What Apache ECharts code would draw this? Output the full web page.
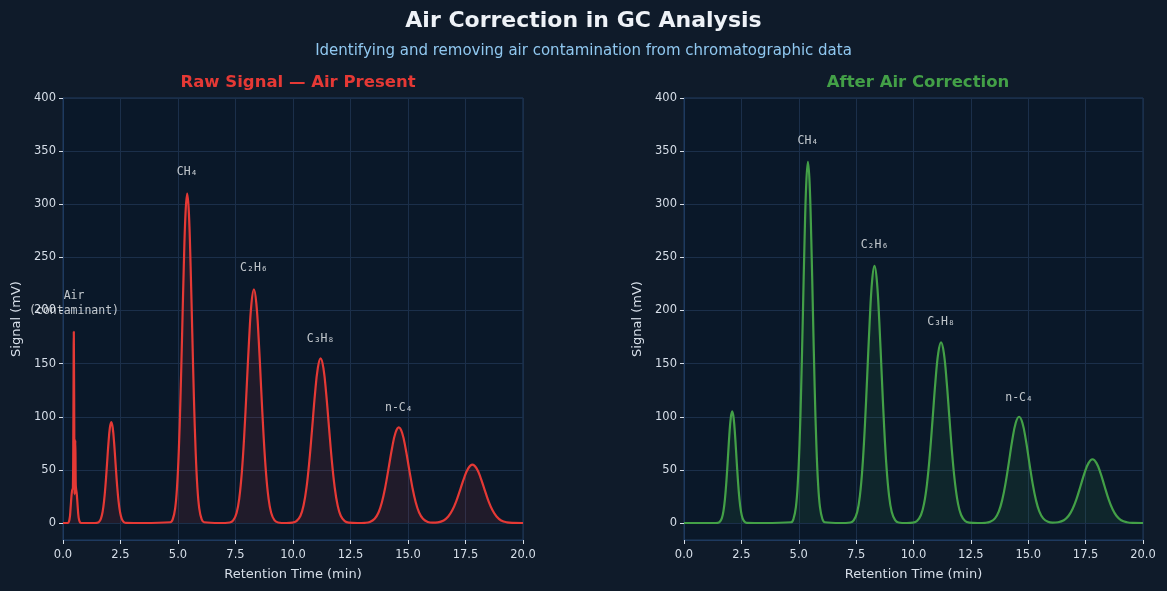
<!DOCTYPE html>
<html>
<head>
<meta charset="utf-8">
<script src="https://cdn.jsdelivr.net/npm/echarts@6/dist/echarts.min.js"></script>
<style>
  html, body { margin: 0; padding: 0; background: #0f1b2a; }
  #chart { width: 1167px; height: 591px; }
</style>
</head>
<body>
<div id="chart"></div>
<script>
// retention time (min) and detector signal (mV)
const rawTime = [
  0, 0.2, 0.28, 0.33, 0.37, 0.40, 0.43, 0.45, 0.47, 0.49, 0.50, 0.515, 0.535, 0.555, 0.57, 0.6, 0.64, 0.68, 0.73, 0.8, 1.3,
  1.47, 1.56, 1.65, 1.722, 1.785, 1.848, 1.911, 1.974, 2.037, 2.1, 2.163, 2.226, 2.289, 2.352, 2.415, 2.478, 2.55, 2.64, 2.73, 3.5,
  4.665, 4.77, 4.875, 4.959, 5.033, 5.106, 5.18, 5.253, 5.327, 5.4, 5.474, 5.547, 5.621, 5.694, 5.768, 5.841, 5.925, 6.03, 6.135, 6.8,
  7.25, 7.4, 7.55, 7.67, 7.775, 7.88, 7.985, 8.09, 8.195, 8.3, 8.405, 8.51, 8.615, 8.72, 8.825, 8.93, 9.05, 9.2, 9.35, 9.7,
  9.975, 10.15, 10.325, 10.465, 10.588, 10.71, 10.833, 10.955, 11.078, 11.2, 11.323, 11.445, 11.568, 11.69, 11.813, 11.935, 12.075, 12.25, 12.425, 12.8,
  13.13, 13.34, 13.55, 13.718, 13.865, 14.012, 14.159, 14.306, 14.453, 14.6, 14.747, 14.894, 15.041, 15.188, 15.335, 15.482, 15.65, 15.86, 16.06,
  16.3, 16.55, 16.75, 16.925, 17.1, 17.275, 17.45, 17.625, 17.8, 17.975, 18.15, 18.325, 18.5, 18.675, 18.85, 19.05, 19.3, 19.55, 20
];
const rawSignal = [
  0, 0, 3, 14, 26, 31, 33, 90, 180, 90, 27, 35, 78, 36, 32, 27, 15, 5, 1, 0, 0,
  0.2, 1.0, 4.2, 10.5, 20.5, 35.7, 54.7, 74.4, 89.4, 95, 89.4, 74.4, 54.7, 35.7, 20.5, 10.5, 4.2, 1.0, 0.2, 0,
  0.7, 3.4, 13.6, 34.2, 67.1, 116.3, 178.7, 242.6, 291.6, 310, 291.6, 242.6, 178.7, 116.3, 67.1, 34.2, 13.6, 3.4, 0.7, 0,
  0.5, 2.4, 9.7, 24.3, 47.6, 82.6, 126.8, 172.2, 206.9, 220, 206.9, 172.2, 126.8, 82.6, 47.6, 24.3, 9.7, 2.4, 0.5, 0,
  0.3, 1.7, 6.8, 17.1, 33.5, 58.2, 89.3, 121.3, 145.8, 155, 145.8, 121.3, 89.3, 58.2, 33.5, 17.1, 6.8, 1.7, 0.3, 0,
  0.2, 1.0, 4.0, 9.9, 19.5, 33.8, 51.9, 70.4, 84.7, 90, 84.7, 70.4, 51.9, 33.8, 19.5, 9.9, 4.0, 1.0, 0.3,
  0.6, 2.4, 6.1, 11.9, 20.6, 31.7, 43.0, 51.7, 55, 51.7, 43.0, 31.7, 20.6, 11.9, 6.1, 2.4, 0.6, 0.1, 0
];

// corrected panel: air removed
const corrTime = [
  0, 1.3,
  1.47, 1.56, 1.65, 1.722, 1.785, 1.848, 1.911, 1.974, 2.037, 2.1, 2.163, 2.226, 2.289, 2.352, 2.415, 2.478, 2.55, 2.64, 2.73, 3.5,
  4.665, 4.77, 4.875, 4.959, 5.033, 5.106, 5.18, 5.253, 5.327, 5.4, 5.474, 5.547, 5.621, 5.694, 5.768, 5.841, 5.925, 6.03, 6.135, 6.8,
  7.25, 7.4, 7.55, 7.67, 7.775, 7.88, 7.985, 8.09, 8.195, 8.3, 8.405, 8.51, 8.615, 8.72, 8.825, 8.93, 9.05, 9.2, 9.35, 9.7,
  9.975, 10.15, 10.325, 10.465, 10.588, 10.71, 10.833, 10.955, 11.078, 11.2, 11.323, 11.445, 11.568, 11.69, 11.813, 11.935, 12.075, 12.25, 12.425, 12.8,
  13.13, 13.34, 13.55, 13.718, 13.865, 14.012, 14.159, 14.306, 14.453, 14.6, 14.747, 14.894, 15.041, 15.188, 15.335, 15.482, 15.65, 15.86, 16.06,
  16.3, 16.55, 16.75, 16.925, 17.1, 17.275, 17.45, 17.625, 17.8, 17.975, 18.15, 18.325, 18.5, 18.675, 18.85, 19.05, 19.3, 19.55, 20
];
const corrSignal = [
  0, 0,
  0.2, 1.2, 4.6, 11.6, 22.7, 39.4, 60.5, 82.2, 98.8, 105, 98.8, 82.2, 60.5, 39.4, 22.7, 11.6, 4.6, 1.2, 0.2, 0,
  0.7, 3.8, 14.9, 37.5, 73.5, 127.6, 195.9, 266.1, 319.8, 340, 319.8, 266.1, 195.9, 127.6, 73.5, 37.5, 14.9, 3.8, 0.7, 0,
  0.5, 2.7, 10.6, 26.7, 52.3, 90.8, 139.5, 189.4, 227.6, 242, 227.6, 189.4, 139.5, 90.8, 52.3, 26.7, 10.6, 2.7, 0.5, 0,
  0.4, 1.9, 7.5, 18.8, 36.8, 63.8, 98.0, 133.1, 159.9, 170, 159.9, 133.1, 98.0, 63.8, 36.8, 18.8, 7.5, 1.9, 0.4, 0,
  0.2, 1.1, 4.4, 11.0, 21.6, 37.5, 57.6, 78.3, 94.1, 100, 94.1, 78.3, 57.6, 37.5, 21.6, 11.0, 4.4, 1.1, 0.3,
  0.7, 2.6, 6.6, 13.0, 22.5, 34.6, 47.0, 56.4, 60, 56.4, 47.0, 34.6, 22.5, 13.0, 6.6, 2.6, 0.7, 0.1, 0
];

// peak annotations
const rawLabels = ['Air\n(contaminant)', 'CH₄', 'C₂H₆', 'C₃H₈', 'n-C₄'];
const rawLabelTime = [0.48, 5.4, 8.3, 11.2, 14.6];
const rawLabelY = [190, 320, 230, 163, 98];
const corrLabels = ['CH₄', 'C₂H₆', 'C₃H₈', 'n-C₄'];
const corrLabelTime = [5.4, 8.3, 11.2, 14.6];
const corrLabelY = [350, 252, 179, 108];

const yTicks = [0, 50, 100, 150, 200, 250, 300, 350, 400];

const zip = (a, b) => a.map((v, i) => [v, b[i]]);

let myChart = echarts.init(document.getElementById('chart'));

const textCol = '#d6dee8';
const font = 'DejaVu Sans';

function xAx(i) {
  return {
    type: 'value', gridIndex: i, min: 0, max: 20, interval: 2.5,
    name: 'Retention Time (min)', nameLocation: 'middle', nameGap: 28,
    nameTextStyle: { color: textCol, fontSize: 13, fontFamily: font },
    axisLine: { show: true, onZero: false, lineStyle: { color: '#1e3a5f' } },
    axisTick: { show: true, length: 4, lineStyle: { color: textCol } },
    axisLabel: { color: textCol, fontSize: 11.5, fontFamily: font, margin: 9,
      formatter: v => v.toFixed(1) },
    splitLine: { show: true, lineStyle: { color: '#1b2f4a', width: 1 } }
  };
}
function yAx(i) {
  return {
    type: 'value', gridIndex: i, min: -16, max: 400,
    name: 'Signal (mV)', nameLocation: 'middle', nameGap: 40,
    nameTextStyle: { color: textCol, fontSize: 13, fontFamily: font },
    axisLine: { show: true, lineStyle: { color: '#1e3a5f' } },
    axisTick: { show: true, length: 4, customValues: yTicks, lineStyle: { color: textCol } },
    axisLabel: { color: textCol, fontSize: 11.5, fontFamily: font, margin: 7, customValues: yTicks },
    splitLine: { show: true, lineStyle: { color: '#1b2f4a', width: 1 } }
  };
}
function labelSeries(i, names, t, y) {
  return {
    type: 'scatter', xAxisIndex: i, yAxisIndex: i, symbolSize: 0, silent: true,
    data: names.map((n, k) => ({ name: n, value: [t[k], y[k]] })),
    label: {
      show: true, position: 'top', distance: 3, formatter: p => p.name,
      color: '#eef1f4', fontSize: 11.5, fontFamily: 'DejaVu Sans Mono', align: 'center', lineHeight: 15
    },
    z: 5
  };
}

myChart.setOption({
  backgroundColor: '#0f1b2a',
  animation: false,
  title: [
    { text: 'Air Correction in GC Analysis', left: 'center', top: 5,
      textStyle: { color: '#eef2f7', fontSize: 22, fontWeight: 'bold', fontFamily: font } },
    { text: 'Identifying and removing air contamination from chromatographic data', left: 'center', top: 39,
      textStyle: { color: '#90c8f0', fontSize: 15, fontWeight: 'normal', fontFamily: font } },
    { text: 'Raw Signal — Air Present', left: 293, textAlign: 'center', top: 69,
      textStyle: { color: '#e53935', fontSize: 16.5, fontWeight: 'bold', fontFamily: font } },
    { text: 'After Air Correction', left: 913, textAlign: 'center', top: 69,
      textStyle: { color: '#43a047', fontSize: 16.5, fontWeight: 'bold', fontFamily: font } }
  ],
  grid: [
    { left: 63, top: 98, width: 460, height: 442, show: true, backgroundColor: '#0a1829', borderColor: '#1e3a5f', borderWidth: 1 },
    { left: 684, top: 98, width: 459, height: 442, show: true, backgroundColor: '#0a1829', borderColor: '#1e3a5f', borderWidth: 1 }
  ],
  xAxis: [xAx(0), xAx(1)],
  yAxis: [yAx(0), yAx(1)],
  series: [
    {
      type: 'line', xAxisIndex: 0, yAxisIndex: 0, showSymbol: false, smooth: 0.4,
      data: zip(rawTime, rawSignal),
      lineStyle: { color: '#e53935', width: 2.2 },
      areaStyle: { color: 'rgba(229,57,53,0.15)', origin: 0 }
    },
    {
      type: 'line', xAxisIndex: 1, yAxisIndex: 1, showSymbol: false, smooth: 0.4,
      data: zip(corrTime, corrSignal),
      lineStyle: { color: '#43a047', width: 2.2 },
      areaStyle: { color: 'rgba(67,160,71,0.15)', origin: 0 }
    },
    labelSeries(0, rawLabels, rawLabelTime, rawLabelY),
    labelSeries(1, corrLabels, corrLabelTime, corrLabelY)
  ]
});
window.onresize = myChart.resize;
</script>
</body>
</html>
